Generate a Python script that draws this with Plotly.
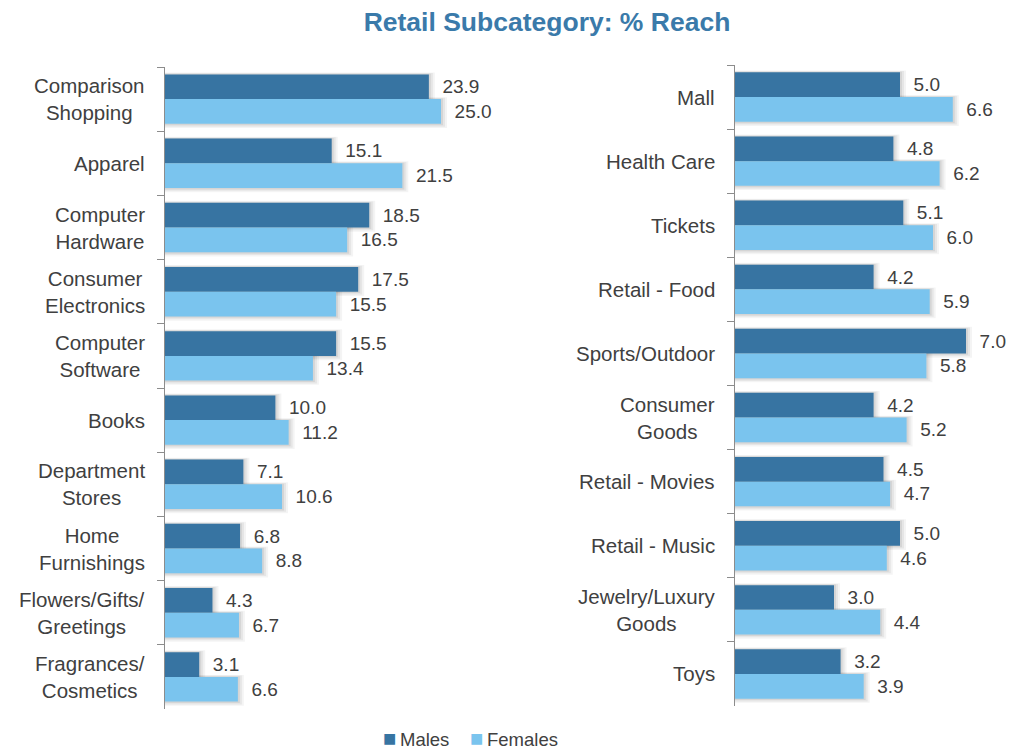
import plotly.graph_objects as go

left_categories = ["Comparison<br>Shopping", "Apparel", "Computer<br>Hardware", "Consumer<br>Electronics",
                   "Computer<br>Software", "Books", "Department<br>Stores", "Home<br>Furnishings",
                   "Flowers/Gifts/<br>Greetings", "Fragrances/<br>Cosmetics"]
left_males = [23.9, 15.1, 18.5, 17.5, 15.5, 10.0, 7.1, 6.8, 4.3, 3.1]
left_females = [25.0, 21.5, 16.5, 15.5, 13.4, 11.2, 10.6, 8.8, 6.7, 6.6]

right_categories = ["Mall", "Health Care", "Tickets", "Retail - Food", "Sports/Outdoor",
                    "Consumer<br>Goods", "Retail - Movies", "Retail - Music",
                    "Jewelry/Luxury<br>Goods", "Toys"]
right_males = [5.0, 4.8, 5.1, 4.2, 7.0, 4.2, 4.5, 5.0, 3.0, 3.2]
right_females = [6.6, 6.2, 6.0, 5.9, 5.8, 5.2, 4.7, 4.6, 4.4, 3.9]

series_names = ["Males", "Females"]

MALE_COLOR = "#3774A2"
FEMALE_COLOR = "#7AC4EE"
TEXT_COLOR = "#404040"
FONT = "Liberation Sans, Arial, sans-serif"
W, H = 1010, 750

LEFT_PX_PER_UNIT = 11.04
RIGHT_PX_PER_UNIT = 33.0
BAR_W = 0.385

fig = go.Figure()


def add_pair(cats, males, females, xa, ya, px_per_unit):
    # soft shadows behind the bars
    for vals, off in ((males, -BAR_W), (females, 0.0)):
        for ext, dy, alpha in ((6, 0.06, 0.045), (4, 0.04, 0.055), (2, 0.02, 0.07)):
            fig.add_trace(go.Bar(y=cats, x=[v + ext / px_per_unit for v in vals], orientation="h",
                                 offset=off - dy * 0.5, width=BAR_W + dy * 1.6,
                                 marker=dict(color=f"rgba(0,0,0,{alpha})", line=dict(width=0)),
                                 xaxis=xa, yaxis=ya, showlegend=False, hoverinfo="skip"))
    for vals, off, color, name in ((males, -BAR_W, MALE_COLOR, series_names[0]),
                                   (females, 0.0, FEMALE_COLOR, series_names[1])):
        fig.add_trace(go.Bar(y=cats, x=vals, orientation="h", name=name,
                             offset=off, width=BAR_W,
                             marker=dict(color=color, line=dict(width=0)),
                             text=["  " + f"{v:.1f}" for v in vals], textposition="outside",
                             textfont=dict(size=19, color=TEXT_COLOR, family=FONT), cliponaxis=False,
                             xaxis=xa, yaxis=ya, showlegend=False))


add_pair(left_categories, left_males, left_females, "x", "y", LEFT_PX_PER_UNIT)
add_pair(right_categories, right_males, right_females, "x2", "y2", RIGHT_PX_PER_UNIT)

annotations = []
# category labels (centered multi-line, right anchored)
for cats, yref, xpos in ((left_categories, "y", 147), (right_categories, "y2", 717)):
    for c in cats:
        annotations.append(dict(text=c, x=xpos / W, xref="paper", y=c, yref=yref,
                                xanchor="right", yanchor="middle", align="center", showarrow=False,
                                font=dict(size=20.5, color=TEXT_COLOR, family=FONT)))

# legend drawn as annotations (square marker + name)
for name, color, xpos in ((series_names[0], MALE_COLOR, 381), (series_names[1], FEMALE_COLOR, 468)):
    annotations.append(dict(text=f'<span style="color:{color};font-size:22px">■</span>\u2009{name}',
                            x=xpos / W, xref="paper", y=1 - 738 / H, yref="paper",
                            xanchor="left", yanchor="middle", showarrow=False,
                            font=dict(size=18.5, color=TEXT_COLOR, family=FONT)))

yaxis_common = dict(autorange="reversed", showline=True, linecolor="#8c8c8c", linewidth=1,
                    ticks="outside", tickson="boundaries", ticklen=7, tickcolor="#8c8c8c",
                    showticklabels=False, showgrid=False, type="category")
xaxis_common = dict(visible=False, showgrid=False, zeroline=False)

fig.update_layout(
    width=W, height=H,
    margin=dict(l=0, r=0, t=0, b=0),
    plot_bgcolor="white", paper_bgcolor="white",
    barmode="overlay",
    showlegend=False,
    title=dict(text="<b>Retail Subcategory: % Reach</b>", x=547 / W, xanchor="center",
               y=1 - 22 / H, yanchor="middle",
               font=dict(size=26.5, color="#3A7AAA", family=FONT)),
    xaxis=dict(domain=[165 / W, 505 / W], range=[0, 340 / LEFT_PX_PER_UNIT], anchor="y", **xaxis_common),
    yaxis=dict(domain=[1 - 709 / H, 1 - 67 / H], anchor="x", **yaxis_common),
    xaxis2=dict(domain=[735 / W, 1.0], range=[0, 275 / RIGHT_PX_PER_UNIT], anchor="y2", **xaxis_common),
    yaxis2=dict(domain=[1 - 706 / H, 1 - 65 / H], anchor="x2", **yaxis_common),
    annotations=annotations,
)

fig.write_html("out.html", config={"displayModeBar": False},
               post_script="document.body.style.margin='0';document.body.style.overflow='hidden';")
